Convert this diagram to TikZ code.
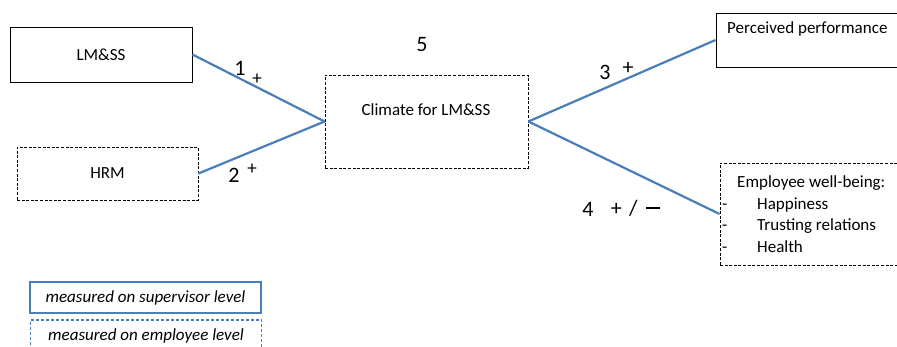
\documentclass[tikz,border=0pt]{standalone}
\usepackage{fontspec}
\setmainfont{Carlito}
\definecolor{linkblue}{HTML}{4A7EBB}
\tikzset{
  solidbox/.style={draw=black, line width=0.9pt, rectangle, inner sep=0pt},
  dashbox/.style={solidbox, dash pattern=on 3pt off 1.6pt},
  legendbox/.style={draw=linkblue, line width=1.1pt, rectangle, inner sep=0pt, minimum width=231, minimum height=31},
  link/.style={draw=linkblue, line width=2.2pt},
  boxtext/.style={font=\fontsize{17}{21.5}\selectfont, inner sep=0pt},
  legendtext/.style={font=\fontsize{17}{21}\selectfont\itshape},
  pathnum/.style={font=\fontsize{22}{26}\selectfont, inner sep=0pt},
  smallplus/.style={font=\fontsize{19}{22}\selectfont, inner sep=0pt},
}
\begin{document}
\begin{tikzpicture}[x=1pt, y=-1pt]
\useasboundingbox (0,0) rectangle (897,347);
\clip (0,0) rectangle (897,347);
% boxes
\node [solidbox, minimum width=182, minimum height=55, boxtext] (lmss) at (101,54.5) {LM\&SS};
\node [dashbox, minimum width=181, minimum height=53, boxtext] (hrm) at (107.5,173.5) {HRM};
\node [dashbox, minimum width=203, minimum height=93] (climate) at (426.5,121.5) {};
\node [boxtext] (climatetext) at (426,110) {Climate for LM\&SS};
\node [solidbox, minimum width=240, minimum height=54] (perf) at (836,40) {};
\node [boxtext, anchor=west] (perftext) at (727,29) {Perceived performance};
\node [dashbox, minimum width=240, minimum height=102] (wellbeing) at (840,214) {};
\node [boxtext, anchor=west, align=left] (wellbeingtext) at (722,214)
  {\hspace*{15pt}Employee well-being:\\ \makebox[35pt][l]{-}Happiness\\
   \makebox[35pt][l]{-}Trusting relations\\ \makebox[35pt][l]{-}Health};
% legend
\node [legendbox, legendtext] (supervisor) at (145.5,297.5) {measured on supervisor level};
\node [legendbox, legendtext, dash pattern=on 3pt off 2pt] (employee) at (146,335.5) {measured on employee level};
% paths
\draw [link] (lmss.east) -- (climate.west);
\draw [link] (hrm.east) -- (climate.west);
\draw [link] (climate.east) -- (perf.west);
\draw [link] (climate.east) -- (wellbeing.west);
% path numbers
\node [pathnum] (num1) at (240,68) {1};
\node [smallplus] (plus1) at (257,79) {+};
\node [pathnum] (num2) at (234,175) {2};
\node [smallplus] (plus2) at (252,169) {+};
\node [pathnum] (num3) at (605,72) {3};
\node [pathnum] (plus3) at (628,68) {+};
\node [pathnum] (num4) at (588,209) {4};
\node [pathnum] (sign4) at (636,208) {+\,\,/\,\,\makebox[16pt]{\rule[6.5pt]{14pt}{1.2pt}}};
\node [pathnum] (num5) at (422,45) {5};
\end{tikzpicture}
\end{document}
